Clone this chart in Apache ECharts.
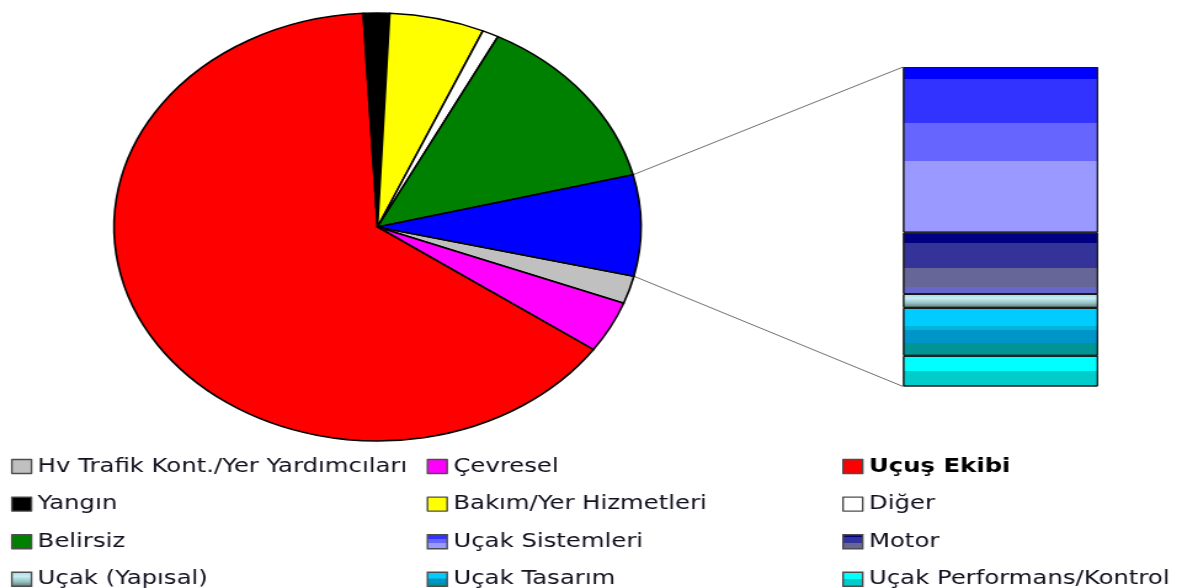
<!DOCTYPE html>
<html>
<head>
<meta charset="utf-8">
<script src="https://cdn.jsdelivr.net/npm/echarts@6/dist/echarts.min.js"></script>
<style>
  html, body { margin: 0; padding: 0; background: #ffffff; overflow: hidden; }
  #stage { width: 1182px; height: 588px; overflow: hidden; }
  /* chart is laid out at 960px and widened to the full 1182px page */
  #main { width: 960px; height: 588px; transform: scaleX(1.23125); transform-origin: 0 0; }
</style>
</head>
<body>
<div id="stage"><div id="main"></div></div>
<script>
// Accident causes, share of all accidents (%)
const categories = [
  'Hv Trafik Kont./Yer Yardımcıları',
  'Çevresel',
  'Uçuş Ekibi',
  'Yangın',
  'Bakım/Yer Hizmetleri',
  'Diğer',
  'Belirsiz'
];
const shares = [2.1, 3.9, 64.3, 1.6, 5.8, 1.0, 13.5];

// Aircraft-related causes, broken out in the stacked column (% of all accidents)
const aircraftGroup = 'Uçak';
const aircraftParts = [
  'Uçak Sistemleri',
  'Motor',
  'Uçak (Yapısal)',
  'Uçak Tasarım',
  'Uçak Performans/Kontrol'
];
const aircraftShares = [3.94, 1.46, 0.33, 1.14, 0.73];

// legend columns
const legendColumns = [
  ['Hv Trafik Kont./Yer Yardımcıları', 'Yangın', 'Belirsiz', 'Uçak (Yapısal)'],
  ['Çevresel', 'Bakım/Yer Hizmetleri', 'Uçak Sistemleri', 'Uçak Tasarım'],
  ['Uçuş Ekibi', 'Diğer', 'Motor', 'Uçak Performans/Kontrol']
];

// ---- styling ----
const sliceColors = ['#c0c0c0', '#ff00ff', '#ff0000', '#000000', '#ffff00', '#ffffff', '#008000'];
const groupColor = '#0000ff';

// banded vertical fills for the column segments: [offset, color]
const bandFills = {
  'Uçak Sistemleri': [[0, '#0000ff'], [0.07, '#3333ff'], [0.34, '#6666ff'], [0.57, '#9999ff']],
  'Motor': [[0, '#000080'], [0.176, '#333399'], [0.58, '#666699'], [0.88, '#6666cc']],
  'Uçak Tasarım': [[0, '#00ccff'], [0.385, '#00b4dc'], [0.47, '#0095c8'], [0.73, '#009494']],
  'Uçak Performans/Kontrol': [[0, '#00ffff'], [0.49, '#00cccc']]
};
function banded(stops) {
  const cs = [];
  stops.forEach((s, i) => {
    const end = i + 1 < stops.length ? stops[i + 1][0] : 1;
    cs.push({ offset: s[0], color: s[1] });
    cs.push({ offset: end, color: s[1] });
  });
  return new echarts.graphic.LinearGradient(0, 0, 0, 1, cs);
}
function partFill(name) {
  if (name === 'Uçak (Yapısal)') {
    return new echarts.graphic.LinearGradient(0, 0, 0, 1, [
      { offset: 0, color: '#a6d6de' },
      { offset: 0.3, color: '#c8eef6' },
      { offset: 0.65, color: '#96c4c4' },
      { offset: 1, color: '#5c6e6e' }
    ]);
  }
  return banded(bandFills[name]);
}

const FONT = 'DejaVu Sans';
const PIE_CX = 306.6, PIE_CY = 227, PIE_R = 214;
const START_ANGLE = -13.3;
const GRID = { left: 733.4, top: 67, width: 158.4, height: 319.5 };

const aircraftTotal = aircraftShares.reduce((a, b) => a + b, 0);

const pieData = categories.map((name, i) => ({
  name: name, value: shares[i], itemStyle: { color: sliceColors[i] }
}));
pieData.push({ name: aircraftGroup, value: aircraftTotal, itemStyle: { color: groupColor } });

// stacked from the bottom: last part first
const barSeries = aircraftParts.slice().reverse().map(name => ({
  type: 'bar',
  name: name,
  stack: 'parts',
  barWidth: '100%',
  data: [aircraftShares[aircraftParts.indexOf(name)]],
  itemStyle: { color: partFill(name), borderColor: '#1a1a1a', borderWidth: 1 },
  emphasis: { disabled: true },
  silent: true
}));

const legendLefts = [8.9, 346.5, 684];
const legends = legendColumns.map((col, c) => ({
  orient: 'vertical',
  left: legendLefts[c],
  top: 456.5,
  height: 200,
  padding: 0,
  itemWidth: 16,
  itemHeight: 14,
  itemGap: 17.6,
  selectedMode: false,
  icon: 'rect',
  itemStyle: { borderColor: '#4d4d4d', borderWidth: 1.4 },
  textStyle: { fontFamily: FONT, fontSize: 19.8, color: '#10101f', lineHeight: 18 },
  data: col.map(n => n === 'Uçuş Ekibi'
    ? { name: n, textStyle: { fontWeight: 'bold', color: '#000000' } }
    : n)
}));

const chart = echarts.init(document.getElementById('main'), null, { renderer: 'canvas' });
chart.setOption({
  animation: false,
  backgroundColor: '#ffffff',
  legend: legends,
  grid: GRID,
  xAxis: { type: 'category', data: [aircraftGroup], show: false },
  yAxis: { type: 'value', min: 0, max: aircraftTotal, show: false },
  series: [
    {
      type: 'pie',
      center: [PIE_CX, PIE_CY],
      radius: PIE_R,
      startAngle: START_ANGLE,
      clockwise: true,
      label: { show: false },
      labelLine: { show: false },
      emphasis: { disabled: true },
      silent: true,
      itemStyle: { borderColor: '#000000', borderWidth: 1.6 },
      data: pieData
    }
  ].concat(barSeries)
});

// connector lines from the aircraft slice to the column's top and bottom corners
const total = pieData.reduce((a, d) => a + d.value, 0);
const groupSweep = 360 * aircraftTotal / total;
function piePoint(deg) {
  const r = deg * Math.PI / 180;
  return [PIE_CX + PIE_R * Math.cos(r), PIE_CY - PIE_R * Math.sin(r)];
}
const upper = piePoint(START_ANGLE + groupSweep);
const lower = piePoint(START_ANGLE);
const colTop = chart.convertToPixel({ yAxisIndex: 0 }, aircraftTotal);
const colBottom = chart.convertToPixel({ yAxisIndex: 0 }, 0);
chart.setOption({
  graphic: [
    { type: 'line', silent: true, z: 1,
      shape: { x1: upper[0], y1: upper[1], x2: GRID.left, y2: colTop },
      style: { stroke: '#707070', lineWidth: 1 } },
    { type: 'line', silent: true, z: 1,
      shape: { x1: lower[0], y1: lower[1], x2: GRID.left, y2: colBottom },
      style: { stroke: '#707070', lineWidth: 1 } }
  ]
});
</script>
</body>
</html>
